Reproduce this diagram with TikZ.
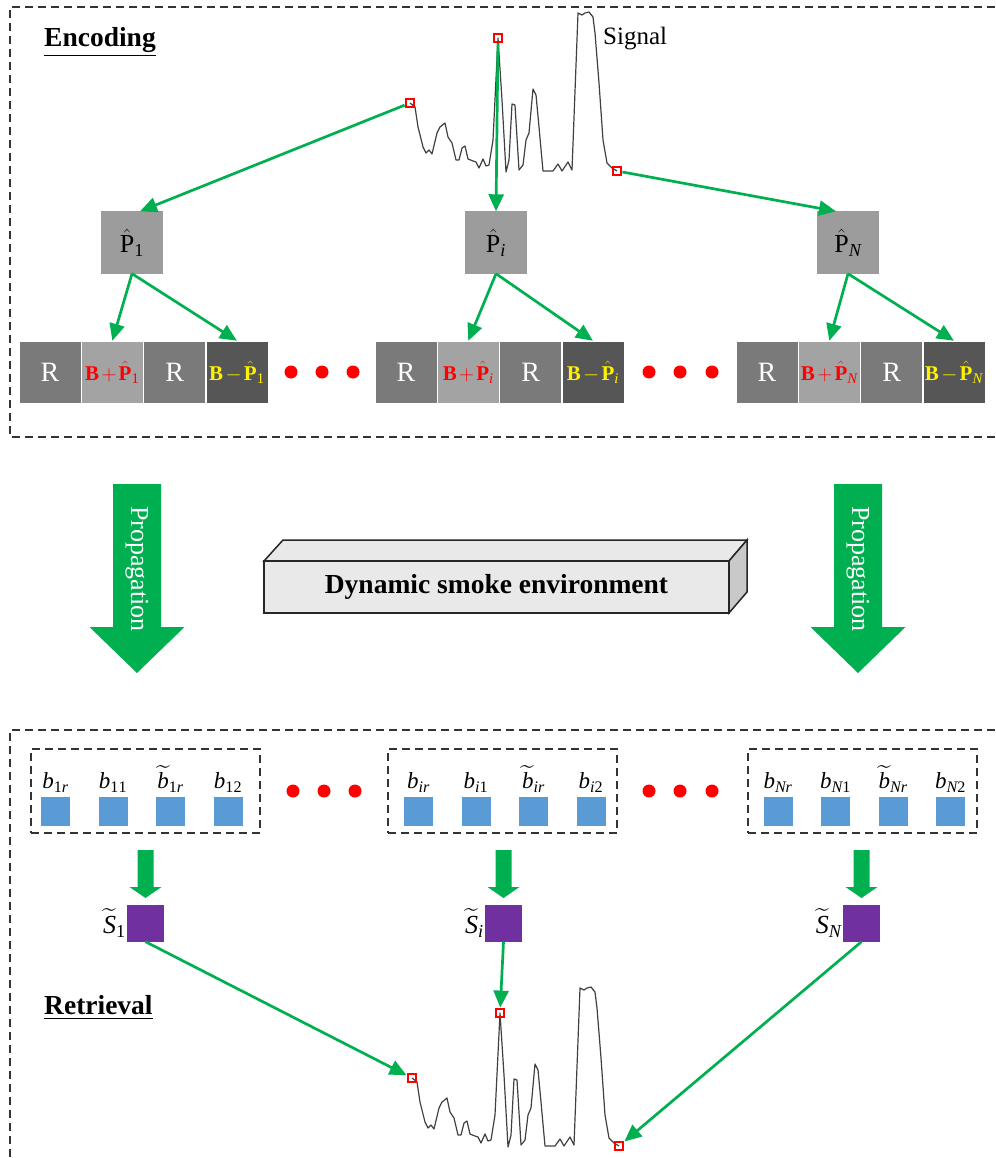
\documentclass[tikz,border=0pt]{standalone}
\usepackage{amsmath}
\usepackage{fontspec}
\setmainfont{Liberation Serif}
\usetikzlibrary{arrows.meta}
\definecolor{gr}{HTML}{00B050}
\definecolor{bblue}{HTML}{5B9BD5}
\definecolor{ppurple}{HTML}{7030A0}
\definecolor{rgray}{HTML}{7A7A7A}
\definecolor{lgray}{HTML}{A3A3A3}
\definecolor{dgray}{HTML}{565656}
\definecolor{pgray}{HTML}{9C9C9C}
\definecolor{smoke}{HTML}{E9E9E9}
\definecolor{smokeside}{HTML}{C9C9C9}
\tikzset{
  frame/.style={draw=black!80, line width=1.5pt, dash pattern=on 8pt off 5pt},
  signal/.style={draw=black!75, line width=1.2pt, line join=round},
  redsq/.style={draw=red, line width=2.3pt, minimum size=8.5pt, inner sep=0pt},
  pbox/.style={fill=pgray, minimum size=62pt, inner sep=0pt, font=\fontsize{26}{30}\selectfont},
  img/.style={minimum width=61.8pt, minimum height=62pt, inner sep=0pt, draw=white, line width=0.5pt},
  rtxt/.style={text=white, font=\fontsize{28}{32}\selectfont},
  bptxt/.style={text=red, font=\fontsize{21}{24}\selectfont},
  bmtxt/.style={text=yellow, font=\fontsize{21}{24}\selectfont},
  garrow/.style={draw=gr, line width=2.7pt, -{Triangle[length=17pt,width=15pt]}},
  bsq/.style={fill=bblue, minimum size=29pt, inner sep=0pt},
  psq/.style={fill=ppurple, minimum size=37pt, inner sep=0pt},
  rdot/.style={circle, fill=red, minimum size=13pt, inner sep=0pt},
  blab/.style={font=\fontsize{23}{26}\selectfont, inner sep=1pt, label distance=3pt},
  slab/.style={font=\fontsize{26}{28}\selectfont, inner sep=1pt},
  title/.style={font=\fontsize{27.5}{30}\selectfont\bfseries, anchor=west, inner sep=0pt},
  blockarrow/.style={fill=gr},
  sig/.pic={
    \draw[signal] (410,103) -- (415,107) -- (418,127) -- (423,147) -- (426,153) -- (429,150) -- (432,154) -- (437,133) -- (440,127) -- (445,123) -- (448,137) -- (452,143) -- (456,160) -- (459,160) -- (462,148) -- (465,146) -- (468,159) -- (473,161) -- (476,162) -- (479,168) -- (483,159) -- (486,166) -- (489,165) -- (493,140) -- (498,38) -- (502,100) -- (506,172) -- (509,160) -- (512,104) -- (515,105) -- (519,170) -- (523,165) -- (526,140) -- (529,133) -- (533,89) -- (536,95) -- (539,127) -- (543,171) -- (553,171) -- (558,164) -- (562,171) -- (568,162) -- (572,170) -- (578,13) -- (582,15) -- (585,13) -- (589,12) -- (593,17) -- (595,33) -- (599,83) -- (603,140) -- (607,163) -- (612,168) -- (617,171);
    \node[redsq] (-a) at (410,103) {};
    \node[redsq] (-b) at (498,38) {};
    \node[redsq] (-c) at (617,171) {};
  }
}
\begin{document}
\begin{tikzpicture}[x=1pt,y=-1pt]
\useasboundingbox (0,0) rectangle (995,1158);
\medmuskip=2mu
% frames
\draw[frame] (995,7) -- (10,7) -- (10,437) -- (995,437);
\draw[frame] (995,730) -- (10,730) -- (10,1158);
\node[title] (enc) at (44,42) {\underline{Encoding}};
\node[title] (ret) at (44,1008) {\underline{Retrieval}};

% signal top
\pic (s) at (0,0) {sig};
\node[font=\fontsize{25}{30}\selectfont, anchor=west, inner sep=0pt] (sigl) at (603,39) {Signal};

% pattern nodes
\node[pbox] (P1) at (132,242.5) {$\hat{\text{P}}_{\text{1}}$};
\node[pbox] (Pi) at (496,242.5) {$\hat{\text{P}}_{\textit{i}}$};
\node[pbox] (PN) at (848,242.5) {$\hat{\text{P}}_{\textit{N}}$};
\draw[garrow] (s-a) -- ([xshift=8pt]P1.north);
\draw[garrow] (s-b) -- (Pi.north);
\draw[garrow] (s-c) -- ([xshift=-12pt]PN.north);

% image rows
\foreach \g/\x/\s in {1/19/\text{1}, i/375/\textit{i}, N/736/\textit{N}}{
  \node[img, fill=rgray, rtxt] (Ra\g) at (\x+31,372) {R};
  \node[img, fill=lgray, bptxt] (BP\g) at (\x+93.3,372) {$\textbf{B}+\hat{\textbf{P}}_{\s}$};
  \node[img, fill=rgray, rtxt] (Rb\g) at (\x+155.6,372) {R};
  \node[img, fill=dgray, bmtxt] (BM\g) at (\x+217.9,372) {$\textbf{B}-\hat{\textbf{P}}_{\s}$};
  \draw[garrow] (P\g.south) -- (BP\g.north);
  \draw[garrow] (P\g.south) -- (BM\g.north);
}
\foreach \x [count=\k] in {291,322,353}{ \node[rdot] (td1\k) at (\x,372) {}; }
\foreach \x [count=\k] in {649,680,712}{ \node[rdot] (td2\k) at (\x,372) {}; }

% propagation arrows
\foreach \c/\n in {137/pl,858/pr}{
  \fill[blockarrow] (\c-24,484) -- (\c+24,484) -- (\c+24,627) -- (\c+47.5,627) -- (\c,673) -- (\c-47.5,627) -- (\c-24,627) -- cycle;
  \node[rotate=-90, text=white, font=\fontsize{26}{30}\selectfont] (\n) at (\c,569) {Propagation};
}

% smoke box
\filldraw[fill=smoke, draw=black!85, line width=1.5pt] (264,561) -- (283,540) -- (747,540) -- (729,561) -- cycle;
\filldraw[fill=smokeside, draw=black!85, line width=1.5pt] (729,561) -- (747,540) -- (747,592) -- (729,613) -- cycle;
\node[draw=black!85, line width=1.5pt, fill=smoke, minimum width=465pt, minimum height=52pt, inner sep=0pt, font=\fontsize{27.5}{30}\selectfont\bfseries] (smokebox) at (496.5,587) {Dynamic smoke environment};

% retrieval groups
\node[frame, minimum width=229pt, minimum height=84pt, inner sep=0pt] (G1) at (145.5,791) {};
\node[frame, minimum width=229pt, minimum height=84pt, inner sep=0pt] (Gi) at (502.5,791) {};
\node[frame, minimum width=229pt, minimum height=84pt, inner sep=0pt] (GN) at (862.5,791) {};

\foreach \g/\x/\s in {1/55.5/\text{1}, i/418.5/\textit{i}, N/778/\textit{N}}{
  \node[bsq, label={[blab]above:\textit{b}$_{\s\textit{r}}$}] (b\g r) at (\x,811.5) {};
  \node[bsq, label={[blab]above:\textit{b}$_{\s\text{1}}$}] (b\g a) at (\x+57.5,811.5) {};
  \node[bsq, label={[blab]above:$\widetilde{\textit{b}}_{\s\textit{r}}$}] (b\g t) at (\x+115,811.5) {};
  \node[bsq, label={[blab]above:\textit{b}$_{\s\text{2}}$}] (b\g b) at (\x+172.5,811.5) {};
}
\foreach \x [count=\k] in {293,324,355}{ \node[rdot] (bd1\k) at (\x,791) {}; }
\foreach \x [count=\k] in {649,680,712}{ \node[rdot] (bd2\k) at (\x,791) {}; }

% small block arrows and S nodes
\foreach \c/\g/\s in {145.5/1/\text{1}, 503.5/i/\textit{i}, 861.5/N/\textit{N}}{
  \fill[blockarrow] (\c-8,850) -- (\c+8,850) -- (\c+8,887) -- (\c+16,887) -- (\c,898) -- (\c-16,887) -- (\c-8,887) -- cycle;
  \node[psq, label={[slab]left:$\widetilde{\textit{S}}_{\s}$}] (S\g) at (\c,923) {};
}

% signal bottom
\pic (r) at (2,975) {sig};
\draw[garrow] (S1.south) -- (r-a);
\draw[garrow] (Si.south) -- (r-b);
\draw[garrow] (SN.south) -- (r-c);
\end{tikzpicture}
\end{document}
